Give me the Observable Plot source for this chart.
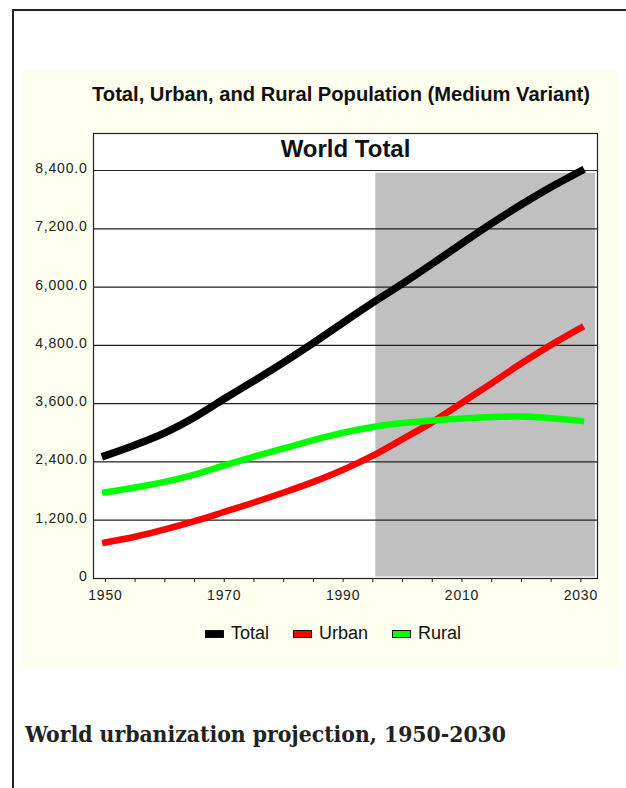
<!DOCTYPE html>
<html><head><meta charset="utf-8">
<script src="https://cdn.jsdelivr.net/npm/d3@7"></script>
<script src="https://cdn.jsdelivr.net/npm/@observablehq/plot@0.6"></script>
<style>
html,body{margin:0;padding:0;background:#fff;}
#page{position:relative;width:626px;height:788px;overflow:hidden;}
#border-top{position:absolute;left:12px;top:9px;width:614px;height:2px;background:#222;}
#border-left{position:absolute;left:12px;top:9px;width:2px;height:779px;background:#222;}
#panel{position:absolute;left:22px;top:70px;width:596px;height:598px;background:#fefeee;}
#title{position:absolute;left:92px;top:82px;white-space:nowrap;font:bold 21px "Liberation Sans",Arial,sans-serif;color:#111;transform-origin:0 0;}
#chart{position:absolute;left:22px;top:120px;}
#legend{position:absolute;left:205px;top:623px;display:flex;align-items:center;font:18px "Liberation Sans",Arial,sans-serif;color:#111;}
.item{display:flex;align-items:center;margin-right:24px;}
.sw{width:17px;height:6px;border:1px solid #111;margin-right:7px;}
#caption{position:absolute;left:25px;top:721px;white-space:nowrap;font:bold 22px "DejaVu Serif",serif;font-stretch:condensed;color:#222;transform-origin:0 0;}
#chart svg g[aria-label$="tick label"] text{letter-spacing:0.8px;}
</style>
</head>
<body>
<div id="page">
  <div id="border-top"></div>
  <div id="border-left"></div>
  <div id="panel"></div>
  <div id="title">Total, Urban, and Rural Population (Medium Variant)</div>
  <div id="chart"></div>
  <div id="legend"></div>
  <div id="caption">World urbanization projection, 1950-2030</div>
</div>
<script>
const years    = [1950,1955,1960,1965,1970,1975,1980,1985,1990,1995,2000,2005,2010,2015,2020,2025,2030];
const totalPop = [2530,2750,3000,3320,3700,4070,4450,4850,5270,5680,6070,6480,6900,7310,7700,8060,8390];
const urbanPop = [740,860,1010,1180,1370,1565,1770,1990,2240,2530,2870,3220,3620,4020,4430,4810,5160];
const ruralPop = [1775,1875,1990,2140,2330,2510,2680,2850,3000,3120,3200,3255,3295,3325,3335,3300,3245];
const seriesNames  = ["Total","Urban","Rural"];
const seriesColors = ["#000000","#ff0000","#00ff00"];
const yTicks = [0,1200,2400,3600,4800,6000,7200,8400];
const xLabelYears = [1950,1970,1990,2010,2030];
const projectionStart = 1995.5;
const chartTitle = "World Total";

const seriesValues = [totalPop, urbanPop, ruralPop];
const rows = [];
seriesNames.forEach((s, i) => years.forEach((yr, j) => rows.push({series: s, year: yr, value: seriesValues[i][j]})));

const lineMark = (name, w) => Plot.line(rows.filter(d => d.series === name), {
  x: "year", y: "value", stroke: "series", strokeWidth: w, curve: "monotone-x", strokeLinecap: "square", strokeLinejoin: "round"
});

const chart = Plot.plot({
  width: 596, height: 490,
  marginLeft: 71, marginRight: 21, marginTop: 13, marginBottom: 32,
  style: {background: "transparent", fontFamily: "'Liberation Sans', Arial, sans-serif", fontSize: "14px", color: "#222", overflow: "visible"},
  x: {domain: [1948, 2032.8], axis: null},
  y: {domain: [0, 9162], axis: null},
  color: {domain: seriesNames, range: seriesColors},
  marks: [
    Plot.frame({fill: "#ffffff", stroke: "none"}),
    Plot.rect([{x1: projectionStart, x2: 2032.5, y1: 30, y2: 8345}], {x1: "x1", x2: "x2", y1: "y1", y2: "y2", fill: "#c0c0c0"}),
    Plot.ruleY(yTicks.slice(1), {stroke: "#222", strokeWidth: 1.2}),
    lineMark("Total", 7.5),
    lineMark("Urban", 6.5),
    lineMark("Rural", 6.5),
    Plot.frame({stroke: "#222", strokeWidth: 1.2}),
    Plot.axisY(yTicks, {anchor: "left", tickSize: 0, tickPadding: 6, dy: -2, fontSize: 14,
      tickFormat: d => d === 0 ? "0" : d3.format(",.1f")(d)}),
    Plot.axisX(years, {anchor: "bottom", tickSize: 4, tickFormat: () => "", stroke: "#222"}),
    Plot.axisX(xLabelYears, {anchor: "bottom", tickSize: 0, tickPadding: 12, fontSize: 14, tickFormat: d => String(d)}),
    Plot.text([chartTitle], {text: d => d, frameAnchor: "top", lineAnchor: "middle", dy: 16, fontSize: 24, fontWeight: "bold", fill: "#111"})
  ]
});
document.getElementById("chart").appendChild(chart);

const legend = document.getElementById("legend");
seriesNames.forEach((s, i) => {
  const item = document.createElement("div");
  item.className = "item";
  const sw = document.createElement("div");
  sw.className = "sw";
  sw.style.background = seriesColors[i];
  const t = document.createElement("span");
  t.textContent = s;
  item.appendChild(sw); item.appendChild(t);
  legend.appendChild(item);
});

function fitWidth(id, target) {
  const el = document.getElementById(id);
  const w = el.getBoundingClientRect().width;
  if (w > 0) el.style.transform = `scaleX(${target / w})`;
}
fitWidth("title", 498);
fitWidth("caption", 481);
</script>
</body></html>
